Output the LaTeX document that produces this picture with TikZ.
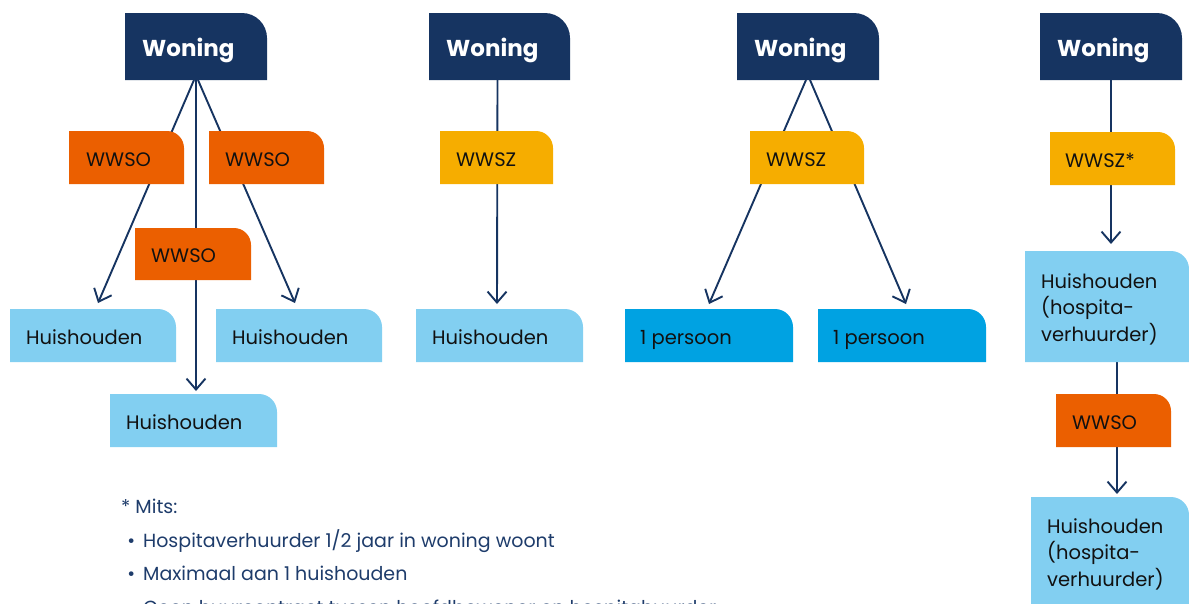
\documentclass[tikz,border=0pt]{standalone}
\usepackage{fontspec}
\setmainfont{Poppins}
\usetikzlibrary{arrows.meta,calc}
\definecolor{navy}{HTML}{163461}
\definecolor{orng}{HTML}{EB5F00}
\definecolor{yell}{HTML}{F6AD00}
\definecolor{lblue}{HTML}{82CFF1}
\definecolor{mblue}{HTML}{00A2E2}
\definecolor{ink}{HTML}{111111}
\definecolor{notecol}{HTML}{1E3C6B}
\pgfdeclarelayer{lines}
\pgfdeclarelayer{fills}
\pgfsetlayers{lines,fills,main}
\begin{document}
\begin{tikzpicture}[x=1pt,y=-1pt,
  bx/.style={anchor=north west, inner sep=0pt, outer sep=0pt, shape=rectangle},
  txt/.style={anchor=west, inner sep=0pt, font=\fontsize{19.5}{26}\selectfont, text=ink, text height=14pt, text depth=0pt, yshift=-1.5pt},
  mtxt/.style={anchor=north west, inner sep=0pt, font=\fontsize{19.5}{26.5}\selectfont, text=ink, text height=14pt, text width=160pt, align=left},
  wtxt/.style={anchor=west, inner sep=0pt, font=\fontsize{23}{28}\selectfont\bfseries, text=white, text height=17pt, text depth=0pt, yshift=-1.5pt},
  note/.style={anchor=base west, inner sep=0pt, font=\fontsize{19}{24}\selectfont, text=notecol},
  link/.style={draw=navy, line width=1.9pt},
  arr/.style={link, -{Straight Barb[length=11pt,width=19pt,line width=1.9pt]}}
]
\useasboundingbox (0,0) rectangle (1189,603);

% boxes
\node[bx, minimum width=142, minimum height=67] (w1) at (125,13) {};
\node[bx, minimum width=141, minimum height=67] (w2) at (429,13) {};
\node[bx, minimum width=142, minimum height=67] (w3) at (737,13) {};
\node[bx, minimum width=142, minimum height=67] (w4) at (1040,13) {};
\node[bx, minimum width=115, minimum height=53] (o1) at (69,131) {};
\node[bx, minimum width=115, minimum height=53] (o2) at (209,131) {};
\node[bx, minimum width=116, minimum height=52] (o3) at (135,228) {};
\node[bx, minimum width=115, minimum height=53] (o4) at (1056,394) {};
\node[bx, minimum width=113, minimum height=53] (y1) at (440,131) {};
\node[bx, minimum width=114, minimum height=53] (y2) at (750,131) {};
\node[bx, minimum width=125, minimum height=53] (y3) at (1050,132) {};
\node[bx, minimum width=166, minimum height=53] (h1) at (10,309) {};
\node[bx, minimum width=166, minimum height=53] (h2) at (216,309) {};
\node[bx, minimum width=167, minimum height=53] (h3) at (110,394) {};
\node[bx, minimum width=167, minimum height=53] (h4) at (416,309) {};
\node[bx, minimum width=168, minimum height=53] (p1) at (625,309) {};
\node[bx, minimum width=168, minimum height=53] (p2) at (818,309) {};
\node[bx, minimum width=164, minimum height=111] (hh1) at (1025,251) {};
\node[bx, minimum width=158, minimum height=111] (hh2) at (1031,497) {};

% texts
\node[wtxt] (w1t) at ([xshift=17pt]w1.west) {Woning};
\node[wtxt] (w2t) at ([xshift=17pt]w2.west) {Woning};
\node[wtxt] (w3t) at ([xshift=17pt]w3.west) {Woning};
\node[wtxt] (w4t) at ([xshift=17pt]w4.west) {Woning};
\node[txt] (o1t) at ([xshift=17pt]o1.west) {WWSO};
\node[txt] (o2t) at ([xshift=16pt]o2.west) {WWSO};
\node[txt] (o3t) at ([xshift=16pt]o3.west) {WWSO};
\node[txt] (o4t) at ([xshift=16pt]o4.west) {WWSO};
\node[txt] (y1t) at ([xshift=16pt]y1.west) {WWSZ};
\node[txt] (y2t) at ([xshift=16pt]y2.west) {WWSZ};
\node[txt] (y3t) at ([xshift=15pt]y3.west) {WWSZ*};
\node[txt] (h1t) at ([xshift=16pt]h1.west) {Huishouden};
\node[txt] (h2t) at ([xshift=16pt]h2.west) {Huishouden};
\node[txt] (h3t) at ([xshift=16pt]h3.west) {Huishouden};
\node[txt] (h4t) at ([xshift=16pt]h4.west) {Huishouden};
\node[txt] (p1t) at ([xshift=15pt]p1.west) {1 persoon};
\node[txt] (p2t) at ([xshift=15pt]p2.west) {1 persoon};
\node[mtxt] (hh1t) at ($(hh1.north west)+(16,23)$) {Huishouden\\(hospita-\\verhuurder)};
\node[mtxt] (hh2t) at ($(hh2.north west)+(16,22)$) {Huishouden\\(hospita-\\verhuurder)};

% footnote
\node[note] (n0) at (121,513) {* Mits:};
\node[note] (n1) at (131,547) {\makebox[0pt][c]{•}\hspace{12pt}Hospitaverhuurder 1/2 jaar in woning woont};
\node[note] (n2) at (131,580.5) {\makebox[0pt][c]{•}\hspace{12pt}Maximaal aan 1 huishouden};
\node[note] (n3) at (131,614) {\makebox[0pt][c]{•}\hspace{12pt}Geen huurcontract tussen hoofdbewoner en hospitahuurder};

% fills
\begin{pgfonlayer}{fills}
\foreach \n/\c/\r in {w1/navy/25pt,w2/navy/25pt,w3/navy/25pt,w4/navy/25pt,
  o1/orng/17pt,o2/orng/17pt,o3/orng/17pt,o4/orng/17pt,
  y1/yell/17pt,y2/yell/17pt,y3/yell/17pt,
  h1/lblue/18pt,h2/lblue/18pt,h3/lblue/18pt,h4/lblue/18pt,hh1/lblue/18pt,hh2/lblue/18pt,
  p1/mblue/18pt,p2/mblue/18pt}{
  \fill[\c] (\n.south west) -- (\n.north west) -- ([xshift=-\r]\n.north east)
    arc[start angle=90,end angle=0,radius=\r] -- (\n.south east) -- cycle;
}
\end{pgfonlayer}

% connectors
\begin{pgfonlayer}{lines}
\draw[arr] ([xshift=-2pt]w1.south) -- ($(h1.north)+(5,-6)$);
\draw[arr] ([xshift=2pt]w1.south) -- ($(h2.north)+(-4,-6)$);
\draw[arr] (w1.south) -- ($(w1.south |- h3.north)+(0,-3)$);
\draw[arr] ([xshift=-2pt]w2.south) -- ($(h4.north)+(-2.5,-5)$);
\draw[arr] ([xshift=-2pt]w3.south) -- ($(p1.north)+(0,-5)$);
\draw[arr] ([xshift=2pt]w3.south) -- ($(p2.north)+(4,-5)$);
\draw[arr] (w4.south) -- ($(w4.south |- hh1.north)+(0,-7)$);
\draw[arr] ($(hh1.south)+(10,0)$) -- ($(hh1.south |- hh2.north)+(10,-3)$);
\end{pgfonlayer}
\end{tikzpicture}
\end{document}
